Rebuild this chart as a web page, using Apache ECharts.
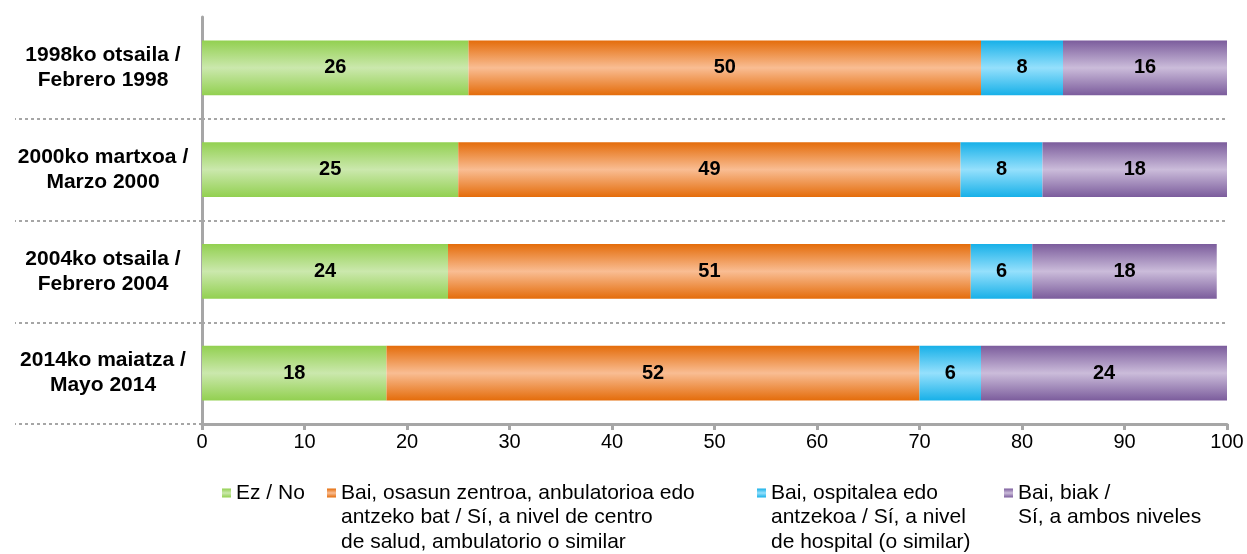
<!DOCTYPE html>
<html><head><meta charset="utf-8">
<script src="https://cdn.jsdelivr.net/npm/echarts@6/dist/echarts.min.js"></script>
<style>html,body{margin:0;padding:0;background:#fff}#c{width:1247px;height:554px}</style>
</head><body><div id="c"></div>
<script>
const categories = ['1998ko otsaila /\nFebrero 1998','2000ko martxoa /\nMarzo 2000','2004ko otsaila /\nFebrero 2004','2014ko maiatza /\nMayo 2014'];
const seriesNames = ['Ez / No','Bai, osasun zentroa, anbulatorioa edo\nantzeko bat / Sí, a nivel de centro\nde salud, ambulatorio o similar','Bai, ospitalea edo\nantzekoa / Sí, a nivel\nde hospital (o similar)','Bai, biak /\nSí, a ambos niveles'];
const ezNo = [26,25,24,18];
const baiCentro = [50,49,51,52];
const baiHospital = [8,8,6,6];
const baiBiak = [16,18,18,24];
const xTicks = [0,10,20,30,40,50,60,70,80,90,100];

const FONT = 'Liberation Sans';
const palette = [['#92d050','#cbe8ad'],['#e46c0a','#f9bd93'],['#17b0e8','#95e0fc'],['#7b5c9c','#cbbcda']];
function grad(p){return new echarts.graphic.LinearGradient(0,0,0,1,[{offset:0,color:p[0]},{offset:0.5,color:p[1]},{offset:1,color:p[0]}]);}
const values=[ezNo,baiCentro,baiHospital,baiBiak];
const series = values.map((v,i)=>({
  name: seriesNames[i], type:'bar', stack:'t', barWidth:'54%',
  data:v,
  itemStyle:{color:grad(palette[i])},
  label:{show:true,position:'inside',color:'#000',fontWeight:'bold',fontSize:20,fontFamily:FONT},
  emphasis:{disabled:true}
}));
const LH = 24.5;
const legendLefts=[222,327,757,1004];
const legends = seriesNames.map((n,i)=>{
  const lines = n.split('\n').length;
  return {
    data:[{name:n,icon:'rect',itemStyle:{color:grad(palette[i])}}], left:legendLefts[i],
    top: 493 - LH/2 - (lines-1)*LH, padding:0, orient:'vertical',
    itemWidth:9,itemHeight:9,itemGap:0,
    formatter: nm => '\n'.repeat(lines-1) + nm,
    textStyle:{fontSize:21,fontFamily:FONT,color:'#000',lineHeight:LH},
    selectedMode:false
  };
});
const chart = echarts.init(document.getElementById('c'));
chart.setOption({
  animation:false,
  grid:{left:202,right:20,top:17,bottom:130},
  legend: legends,
  xAxis:{type:'value',min:0,max:100,interval:10,
    axisLine:{show:true,lineStyle:{color:'#a6a6a6',width:3}},
    axisTick:{show:true,length:6,lineStyle:{color:'#a6a6a6',width:3}},
    axisLabel:{fontSize:20,fontFamily:FONT,color:'#000',margin:8,
      formatter:v=>xTicks.includes(v)?String(v):''},
    splitLine:{show:false}},
  yAxis:{type:'category',data:categories,inverse:true,
    axisLine:{show:true,lineStyle:{color:'#a6a6a6',width:3}},
    axisTick:{show:true,length:187,interval:function(i){return i!==0;},lineStyle:{color:'#a6a6a6',width:2,type:[3,3]}},
    splitLine:{show:true,interval:function(i){return i!==0;},lineStyle:{color:'#a6a6a6',width:2,type:[3,3]}},
    axisLabel:{fontSize:21,fontWeight:'bold',fontFamily:FONT,color:'#000',align:'center',margin:99,lineHeight:25}},
  series: series
});
</script></body></html>
